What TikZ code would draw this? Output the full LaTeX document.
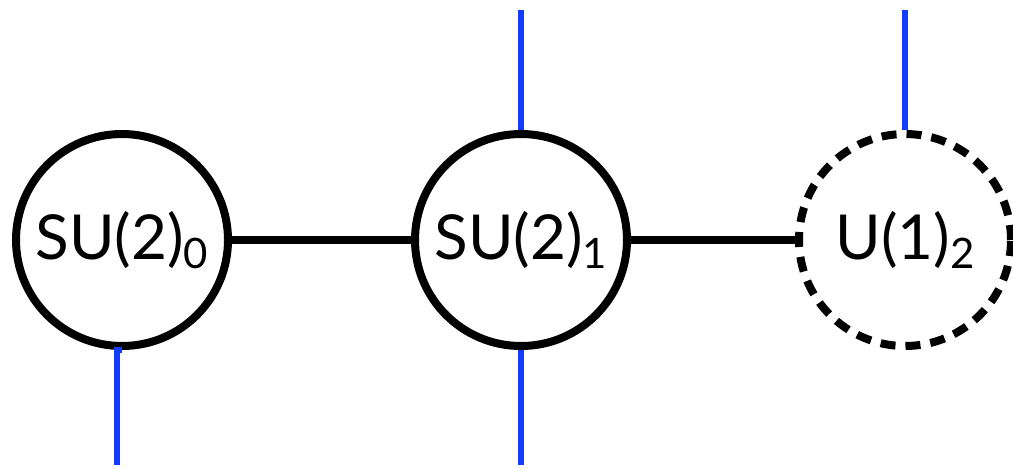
\documentclass[tikz,border=0pt]{standalone}
\usepackage{fontspec}
\setmainfont{Lato}
\newcommand{\lowidx}[1]{\raisebox{-0.28ex}{\fontsize{21}{21}\selectfont #1}}
\begin{document}
\begin{tikzpicture}[x=0.5pt, y=-0.5pt, line cap=butt,
    group/.style={circle, draw, line width=4pt, minimum size=106pt, inner sep=0pt,
      font=\fontsize{31}{36}\selectfont},
    ugroup/.style={group, dash pattern=on 7.5pt off 5pt},
    link/.style={line width=4pt},
    leg/.style={line width=3.3pt, draw={rgb,255:red,20;green,60;blue,255}}]
    \useasboundingbox (0,0) rectangle (1013,468);
    \def\yc{240}
    \node[group] (su0) at (122,\yc) {SU(2)\lowidx{0}};
    \node[group] (su1) at (521,\yc) {SU(2)\lowidx{1}};
    \node[ugroup] (u2) at (905,\yc) {U(1)\lowidx{2}};
    \coordinate (b0) at (117,465);
    \coordinate (t1) at (521,10);
    \coordinate (b1) at (521,465);
    \coordinate (t2) at (905,10);
    \draw[link] (su0) -- (su1);
    \draw[link] (su1) -- (u2);
    \draw[leg] (su0.south) -- (b0 |- su0.south) -- (b0);
    \draw[leg] (t1) -- (su1.north);
    \draw[leg] (su1.south) -- (b1);
    \draw[leg] (t2) -- (u2.north);
\end{tikzpicture}
\end{document}
